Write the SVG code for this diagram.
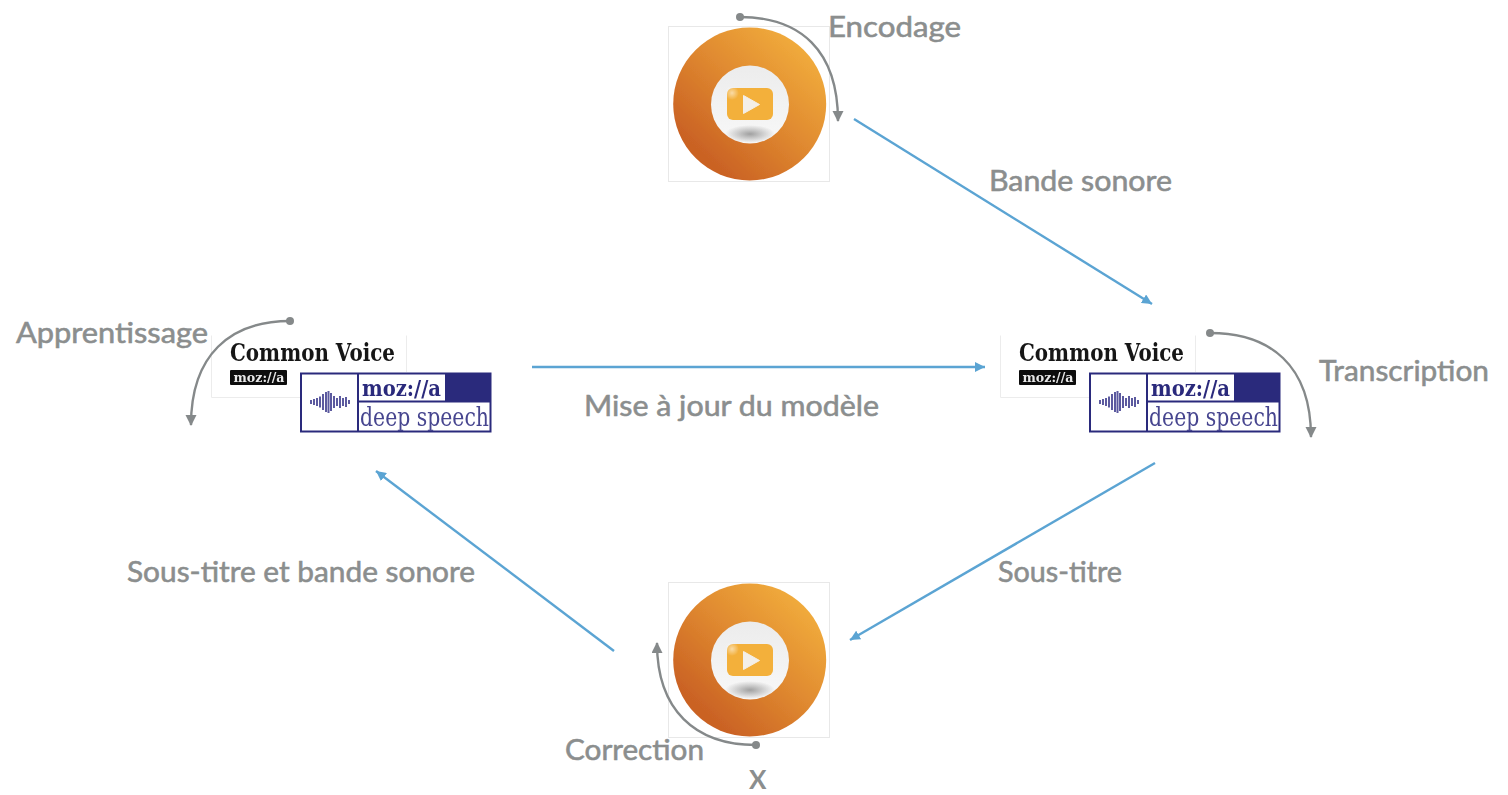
<svg xmlns="http://www.w3.org/2000/svg" width="1508" height="795" viewBox="0 0 1508 795">
<style>
.lbl{font-family:"Lato","Open Sans",sans-serif;font-size:28px;font-weight:400;fill:#8b8e8e;stroke:#8b8e8e;stroke-width:0.55}
.x{font-family:"Lato","Open Sans",sans-serif;font-size:26px;font-weight:700;fill:#8b8e8e}
.blue{fill:none;stroke:#5ba4d3;stroke-width:2.4;marker-end:url(#ab)}
.gray{fill:none;stroke:#85898a;stroke-width:2.4;marker-end:url(#ag)}
.dot{fill:#85898a}
.cv{font-family:"DejaVu Serif",serif;font-weight:700;font-size:24px;fill:#151515}
.mz{font-family:"DejaVu Serif",serif;font-weight:700}
.ds{font-family:"DejaVu Serif",serif;font-size:26px;fill:#46458f}
.wave{stroke:#5c5a9f;stroke-width:2;fill:none}
</style>
<defs>
<filter id="soft" x="-5%" y="-5%" width="110%" height="110%"><feGaussianBlur stdDeviation="0.45"/></filter>
<marker id="ab" markerUnits="userSpaceOnUse" markerWidth="12" markerHeight="10" refX="10" refY="5" orient="auto"><path d="M0 0L10 5L0 10Z" fill="#5ba4d3"/></marker>
<marker id="ag" markerUnits="userSpaceOnUse" markerWidth="12" markerHeight="12" refX="10" refY="5.5" orient="auto"><path d="M0 0L11 5.500L0 11Z" fill="#85898a"/></marker>
<linearGradient id="og" x1="0.9" y1="0.12" x2="0.22" y2="0.85"><stop offset="0" stop-color="#f2ae3d"/><stop offset="0.5" stop-color="#e08a30"/><stop offset="1" stop-color="#ca6224"/></linearGradient>
<linearGradient id="ig" x1="0" y1="0" x2="0" y2="1"><stop offset="0" stop-color="#ececec"/><stop offset="1" stop-color="#f8f8f8"/></linearGradient>
<radialGradient id="sh"><stop offset="0" stop-color="#a0a0a0"/><stop offset="1" stop-color="#a5a5a5" stop-opacity="0"/></radialGradient>
<radialGradient id="gl"><stop offset="0" stop-color="#fff" stop-opacity="0.55"/><stop offset="1" stop-color="#fff" stop-opacity="0"/></radialGradient>
<clipPath id="inner"><circle cx="82" cy="78.500" r="39"/></clipPath>
<g id="video">
<rect x="0.5" y="0.5" width="161" height="155" fill="#fff" stroke="#e8e8e8"/>
<circle cx="81.700" cy="78" r="76.500" fill="url(#og)"/>
<circle cx="82" cy="78.500" r="39" fill="url(#ig)"/>
<ellipse cx="82" cy="108" rx="25" ry="9" fill="url(#sh)" clip-path="url(#inner)"/>
<rect x="59" y="62" width="46" height="32" rx="6" fill="#f3b03b"/>
<circle cx="64" cy="67" r="7" fill="url(#gl)"/>
<path d="M75.500 69.500L91.500 78.500L75.500 87.500Z" fill="#f3efe8" stroke="#f3efe8" stroke-linejoin="round"/>
</g>
<g id="speech">
<path d="M211.500 335.500V397.500H300M406.500 335.500V372" fill="none" stroke="#ececec"/>
<text class="cv" x="230" y="360.500" textLength="165" lengthAdjust="spacingAndGlyphs">Common Voice</text>
<rect x="230" y="370" width="57" height="15" rx="1" fill="#0a0a0a"/>
<text class="mz" x="233.500" y="382" font-size="12.500" fill="#e8e8e8" textLength="51" lengthAdjust="spacingAndGlyphs">moz://a</text>
<rect x="301" y="373.500" width="189.500" height="58" fill="#fff" stroke="#2c2a7c" stroke-width="2"/>
<rect x="445" y="373" width="46" height="28" fill="#2c2a7c"/>
<path d="M358 373V432M358 401.500H491" stroke="#2c2a7c" stroke-width="2" fill="none"/>
<text class="mz" x="362" y="396" font-size="22" fill="#2c2a7c" textLength="79" lengthAdjust="spacingAndGlyphs">moz://a</text>
<text class="ds" x="360" y="425.500" textLength="129" lengthAdjust="spacingAndGlyphs">deep speech</text>
<path class="wave" d="M311 400v4M314 399v6M317 398v8M320 396.500v11M323 394v16M326 392v20M328.500 391v22M331 393v18M334 396v12M337 398v8M340 396v12M343 398v8M346 397v10M349 400v4"/>
</g>
</defs>
<g id="node-video-top"><use href="#video" x="668" y="26" filter="url(#soft)"/></g>
<g id="node-video-bottom"><use href="#video" x="668" y="582" filter="url(#soft)"/></g>
<g id="node-model-left"><use href="#speech" filter="url(#soft)"/></g>
<g id="node-model-right"><use href="#speech" x="789" filter="url(#soft)"/></g>
<g id="connectors">
<path class="blue" d="M854 119L1152 304"/>
<path class="blue" d="M532 367L985 367"/>
<path class="blue" d="M1155 463L850 640"/>
<path class="blue" d="M614 651L376 471"/>
<path class="gray" d="M740 17C800 17 838 50 838 121"/>
<circle class="dot" cx="740" cy="17" r="4"/>
<path class="gray" d="M290 321C230 321 191 355 191 425"/>
<circle class="dot" cx="290" cy="321" r="4"/>
<path class="gray" d="M1210 333C1270 333 1311 365 1311 437"/>
<circle class="dot" cx="1210" cy="333" r="4"/>
<path class="gray" d="M756 745C695 745 657 710 657 643"/>
<circle class="dot" cx="756" cy="745" r="4"/>
</g>
<g id="labels">
<text class="lbl" x="828" y="37" textLength="133" lengthAdjust="spacingAndGlyphs">Encodage</text>
<text class="lbl" x="989" y="191" textLength="183" lengthAdjust="spacingAndGlyphs">Bande sonore</text>
<text class="lbl" x="1319" y="381" textLength="170" lengthAdjust="spacingAndGlyphs">Transcription</text>
<text class="lbl" x="584" y="416" textLength="295" lengthAdjust="spacingAndGlyphs">Mise à jour du modèle</text>
<text class="lbl" x="16" y="343" textLength="192" lengthAdjust="spacingAndGlyphs">Apprentissage</text>
<text class="lbl" x="127" y="582" textLength="348" lengthAdjust="spacingAndGlyphs">Sous-titre et bande sonore</text>
<text class="lbl" x="998" y="582" textLength="124" lengthAdjust="spacingAndGlyphs">Sous-titre</text>
<text class="lbl" x="565" y="760" textLength="139" lengthAdjust="spacingAndGlyphs">Correction</text>
<text class="x" x="749" y="789">X</text>
</g>
</svg>
